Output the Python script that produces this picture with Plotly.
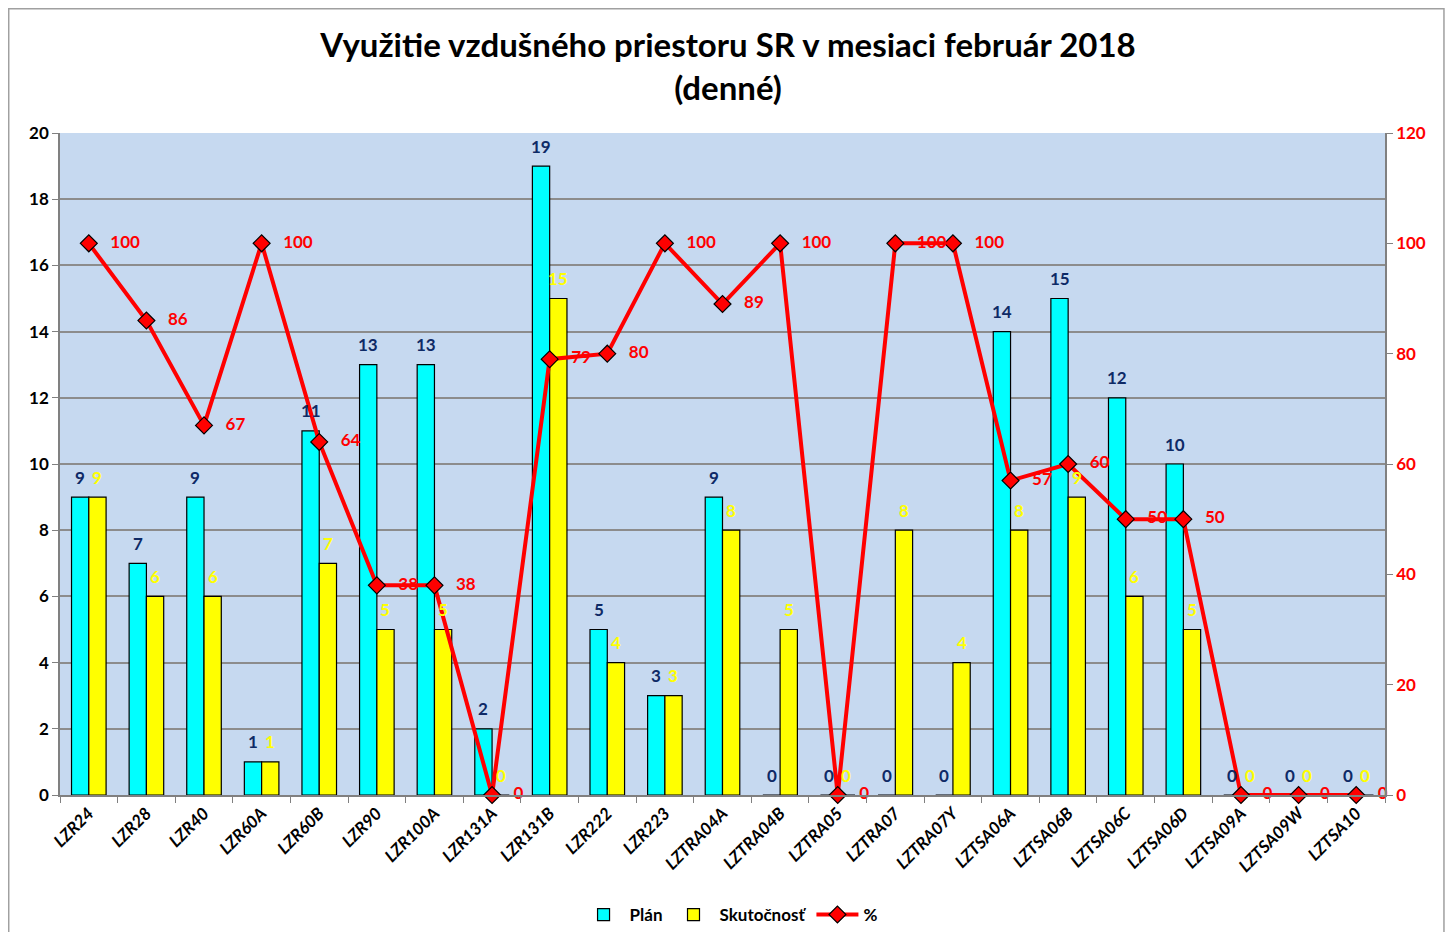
import plotly.graph_objects as go

categories = ["LZR24", "LZR28", "LZR40", "LZR60A", "LZR60B", "LZR90", "LZR100A",
              "LZR131A", "LZR131B", "LZR222", "LZR223", "LZTRA04A", "LZTRA04B",
              "LZTRA05", "LZTRA07", "LZTRA07Y", "LZTSA06A", "LZTSA06B", "LZTSA06C",
              "LZTSA06D", "LZTSA09A", "LZTSA09W", "LZTSA10"]
plan = [9, 7, 9, 1, 11, 13, 13, 2, 19, 5, 3, 9, 0, 0, 0, 0, 14, 15, 12, 10, 0, 0, 0]
skutocnost = [9, 6, 6, 1, 7, 5, 5, 0, 15, 4, 3, 8, 5, 0, 8, 4, 8, 9, 6, 5, 0, 0, 0]
percent = [100, 86, 67, 100, 64, 38, 38, 0, 79, 80, 100, 89, 100, 0, 100, 100,
           57, 60, 50, 50, 0, 0, 0]
left_ticks = list(range(0, 21, 2))
right_ticks = list(range(0, 121, 20))

FONT = "Lato"
NAVY = "#0E2A66"
LBL_SIZE = 17
BAR_HALF = 8.6   # px: half of one bar's width (group offset)

fig = go.Figure()
fig.add_trace(go.Bar(
    name="Plán", x=categories, y=plan,
    marker=dict(color="#00FFFF", line=dict(color="black", width=1.2)),
))
fig.add_trace(go.Bar(
    name="Skutočnosť", x=categories, y=skutocnost,
    marker=dict(color="#FFFF00", line=dict(color="black", width=1.2)),
))
fig.add_trace(go.Scatter(
    name="%", x=categories, y=percent, yaxis="y2",
    mode="lines+markers+text",
    line=dict(color="#FF0000", width=4),
    marker=dict(symbol="diamond", size=13, color="#FF0000",
                line=dict(color="black", width=1.2)),
    text=["   " + str(v) for v in percent], textposition="middle right",
    textfont=dict(family=FONT, size=LBL_SIZE, color="#FF0000", weight="bold"),
    cliponaxis=False,
))

annotations = []
for cat, v in zip(categories, plan):
    annotations.append(dict(x=cat, y=v, xref="x", yref="y", text=str(v),
                            showarrow=False, xshift=-BAR_HALF, yshift=20,
                            xanchor="center", yanchor="middle",
                            font=dict(family=FONT, size=LBL_SIZE, color=NAVY, weight="bold")))
for cat, v in zip(categories, skutocnost):
    annotations.append(dict(x=cat, y=v, xref="x", yref="y", text=str(v),
                            showarrow=False, xshift=BAR_HALF, yshift=20,
                            xanchor="center", yanchor="middle",
                            font=dict(family=FONT, size=LBL_SIZE, color="#FFFF00", weight="bold")))

fig.update_layout(
    width=1440, height=924,
    margin=dict(l=52, r=63, t=125, b=137),
    paper_bgcolor="white",
    plot_bgcolor="#C6D9F0",
    barmode="group", bargap=0.4, bargroupgap=0,
    font=dict(family=FONT, color="black"),
    title=dict(
        text="Využitie vzdušného priestoru SR v mesiaci február 2018<br>(denné)",
        x=0.5, xref="container", xanchor="center",
        y=0.9468, yref="container", yanchor="middle",
        font=dict(family=FONT, size=33, color="black", weight="bold"),
    ),
    xaxis=dict(
        type="category", range=[-0.5, len(categories) - 0.5], automargin=False,
        tickson="boundaries", ticks="outside", ticklen=6,
        tickcolor="#808080", showline=True, linecolor="#808080", linewidth=1.5,
        tickangle=-45, showgrid=False,
        tickfont=dict(family=FONT, size=17, color="black", weight="bold", style="italic"),
    ),
    yaxis=dict(
        range=[0, 20], tickvals=left_ticks, ticks="outside", ticklen=6, automargin=False,
        tickcolor="#808080", showline=True, linecolor="#808080", linewidth=1.5,
        showgrid=True, gridcolor="#8C8C8C", gridwidth=1.5, zeroline=False,
        tickfont=dict(family=FONT, size=17, color="black", weight="bold"),
    ),
    yaxis2=dict(
        range=[0, 120], tickvals=right_ticks, overlaying="y", side="right",
        ticks="outside", ticklen=6, tickcolor="#808080", automargin=False,
        showline=True, linecolor="#808080", linewidth=1.5,
        showgrid=False, zeroline=False,
        tickfont=dict(family=FONT, size=17, color="#FF0000", weight="bold"),
    ),
    legend=dict(
        orientation="h", x=0.5057, xanchor="center",
        yref="container", y=0.0184, yanchor="middle",
        itemwidth=42,
        font=dict(family=FONT, size=17, color="black", weight="bold"),
        bgcolor="rgba(0,0,0,0)",
    ),
    showlegend=True,
    annotations=annotations,
    shapes=[dict(type="rect", xref="paper", yref="paper",
                 x0=-0.0387, x1=1.0445, y0=-0.25, y1=1.1877,
                 line=dict(color="#A0A0A0", width=1.5), layer="below")],
)

fig.write_html("out.html")
